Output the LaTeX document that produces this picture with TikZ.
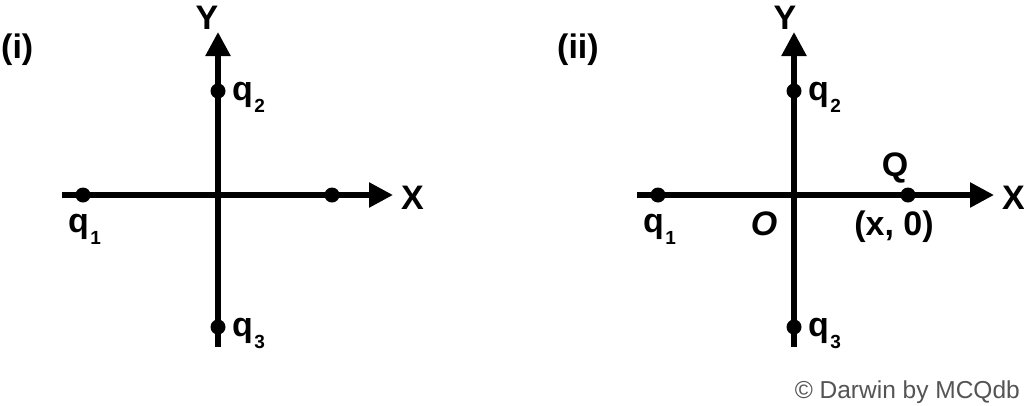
\documentclass[tikz,border=0pt]{standalone}
\usepackage{fontspec}
\setmainfont{Liberation Sans}
\usetikzlibrary{arrows.meta}
\newcommand\qsub[1]{q\kern1.5pt\raisebox{-12pt}{\fontsize{19}{19}\selectfont #1}}
\begin{document}
\begin{tikzpicture}[x=1pt,y=-1pt,
  axis/.style={line width=5.5pt,draw=black},
  arr/.style={-{Triangle[length=24pt,width=24pt]}},
  dot/.style={circle,fill=black,inner sep=0pt,minimum size=15pt},
  lab/.style={inner sep=0pt,font=\fontsize{34}{40}\selectfont\bfseries},
  copy/.style={inner sep=0pt,text=black!67,font=\fontsize{24.5}{28}\selectfont}]
\useasboundingbox[fill=white] (0,0) rectangle (1024,405);
% ---------- (i) ----------
\coordinate (xl1) at (62,195);
\coordinate (xr1) at (393,195);
\coordinate (yb1) at (218,347);
\coordinate (yt1) at (218,32);
\draw[axis,arr] (xl1) -- (xr1);
\draw[axis,arr] (yb1) -- (yt1);
\node[dot] (q1a) at (83,195) {};
\node[dot] (pa) at (332,195) {};
\node[dot] (q2a) at (218,91) {};
\node[dot] (q3a) at (218,327) {};
\node[lab,anchor=base west] (li) at (1,58) {(i)};
\node[lab,anchor=base] (ya) at (207,29) {Y};
\node[lab,anchor=base west] (xa) at (401,209) {X};
\node[lab,anchor=base west] (lq1a) at (68,232) {\qsub{1}};
\node[lab,anchor=base west] (lq2a) at (232,100) {\qsub{2}};
\node[lab,anchor=base west] (lq3a) at (232,336) {\qsub{3}};
% ---------- (ii) ----------
\coordinate (xl2) at (637,195);
\coordinate (xr2) at (994,195);
\coordinate (yb2) at (794,347);
\coordinate (yt2) at (794,32);
\draw[axis,arr] (xl2) -- (xr2);
\draw[axis,arr] (yb2) -- (yt2);
\node[dot] (q1b) at (658,195) {};
\node[dot] (Qb) at (908,195) {};
\node[dot] (q2b) at (794,91) {};
\node[dot] (q3b) at (794,327) {};
\node[lab,anchor=base west] (lii) at (557,58) {(ii)};
\node[lab,anchor=base] (yb) at (785,29) {Y};
\node[lab,anchor=base west] (xb) at (1002,209) {X};
\node[lab,anchor=base west] (lq1b) at (643,232) {\qsub{1}};
\node[lab,anchor=base west] (lq2b) at (808,100) {\qsub{2}};
\node[lab,anchor=base west] (lq3b) at (808,336) {\qsub{3}};
\node[lab,anchor=base] (lO) at (764,235) {\itshape O};
\node[lab,anchor=base] (lQ) at (895,176) {Q};
\node[lab,anchor=base] (lxy) at (894,235) {(x, 0)};
\node[copy,anchor=base east] (cp) at (1020,398) {© Darwin by MCQdb};
\end{tikzpicture}
\end{document}
